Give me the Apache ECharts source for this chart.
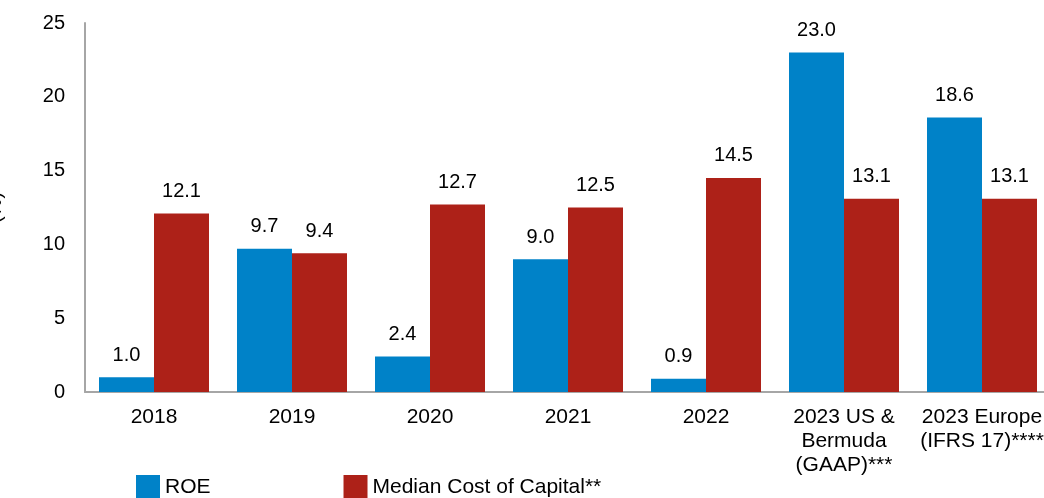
<!DOCTYPE html>
<html>
<head>
<meta charset="utf-8">
<script src="https://cdn.jsdelivr.net/npm/echarts@6/dist/echarts.min.js"></script>
<style>html,body{margin:0;padding:0;background:#fff;}#c{width:1044px;height:498px;}</style>
</head>
<body>
<div id="c"></div>
<script>
const categories = ['2018', '2019', '2020', '2021', '2022', '2023 US &\nBermuda\n(GAAP)***', '2023 Europe\n(IFRS 17)****'];
const roe = [1.0, 9.7, 2.4, 9.0, 0.9, 23.0, 18.6];
const costOfCapital = [12.1, 9.4, 12.7, 12.5, 14.5, 13.1, 13.1];
const yTicks = [0, 5, 10, 15, 20, 25];

const chart = echarts.init(document.getElementById('c'), null, {renderer: 'canvas'});
const font = 'Liberation Sans, Arial, sans-serif';
const fs = 20;
chart.setOption({
  animation: false,
  textStyle: {fontFamily: font},
  grid: {left: 85, top: 23, right: -7, bottom: 106, containLabel: false, outerBoundsMode: 'none'},
  legend: {
    left: 136, top: 475, padding: 0, itemWidth: 24, itemHeight: 24, itemGap: 133,
    icon: 'rect',
    textStyle: {fontFamily: font, fontSize: 21, color: '#000'},
    data: ['ROE', 'Median Cost of Capital**']
  },
  xAxis: {
    type: 'category', data: categories,
    axisLine: {lineStyle: {color: '#a6a6a6', width: 2}},
    axisTick: {show: false},
    axisLabel: {fontFamily: font, fontSize: 21, color: '#000', lineHeight: 24, margin: 13, interval: 0}
  },
  yAxis: {
    type: 'value', min: yTicks[0], max: yTicks[yTicks.length - 1], interval: 5,
    name: '(%)', nameLocation: 'middle', nameGap: 80, nameRotate: 90,
    nameTextStyle: {fontFamily: font, fontSize: fs, color: '#000'},
    axisLine: {show: true, lineStyle: {color: '#a6a6a6', width: 2}},
    axisTick: {show: false},
    splitLine: {show: false},
    axisLabel: {fontFamily: font, fontSize: fs, color: '#000', margin: 20}
  },
  series: [
    {
      name: 'ROE', type: 'bar', data: roe, barWidth: 55, barGap: '0%',
      itemStyle: {color: '#0082c8'},
      label: {show: true, position: 'top', distance: 12, fontFamily: font, fontSize: fs, color: '#000',
        formatter: p => p.value.toFixed(1)}
    },
    {
      name: 'Median Cost of Capital**', type: 'bar', data: costOfCapital, barWidth: 55,
      itemStyle: {color: '#ad2118'},
      label: {show: true, position: 'top', distance: 12, fontFamily: font, fontSize: fs, color: '#000',
        formatter: p => p.value.toFixed(1)}
    }
  ]
});
</script>
</body>
</html>
